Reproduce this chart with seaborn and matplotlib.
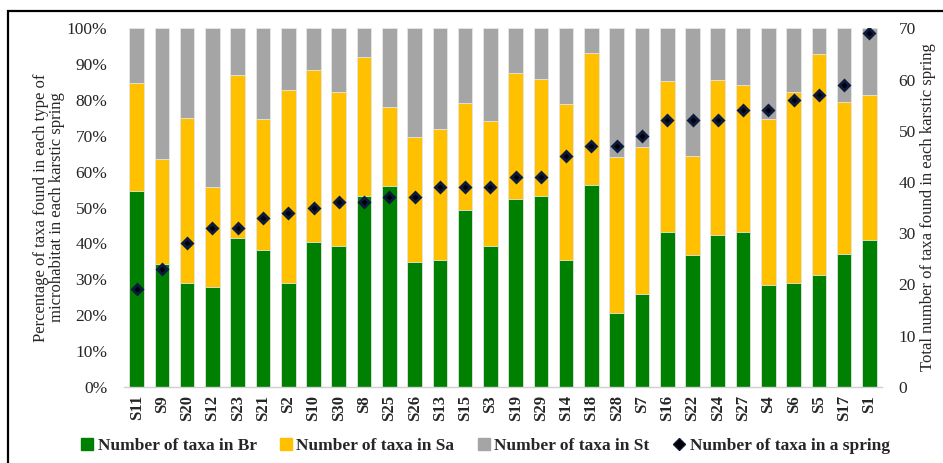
import numpy as np
import pandas as pd
import matplotlib
matplotlib.use("Agg")
import matplotlib.pyplot as plt
from matplotlib.lines import Line2D
from matplotlib.patches import Rectangle
from matplotlib.ticker import PercentFormatter
import seaborn as sns

# Springs ordered by total richness
springs = ["S11", "S9", "S20", "S12", "S23", "S21", "S2", "S10", "S30", "S8",
           "S25", "S26", "S13", "S15", "S3", "S19", "S29", "S14", "S18", "S28",
           "S7", "S16", "S22", "S24", "S27", "S4", "S6", "S5", "S17", "S1"]

# Share (%) of taxa found in each microhabitat
pct_br = [54.6, 34.1, 28.8, 27.7, 41.6, 38.1, 28.8, 40.4, 39.3, 53.1,
          56.0, 34.8, 35.3, 49.3, 39.3, 52.4, 53.1, 35.3, 56.2, 20.5,
          26.0, 43.2, 36.8, 42.2, 43.2, 28.3, 28.9, 31.3, 37.1, 40.8]
pct_sa = [30.2, 29.3, 46.3, 28.0, 45.4, 36.5, 54.1, 48.1, 42.9, 38.9,
          22.0, 34.9, 36.7, 29.9, 34.9, 35.0, 32.8, 43.6, 37.0, 43.6,
          41.0, 42.1, 27.6, 43.5, 40.9, 46.5, 53.4, 61.4, 42.4, 40.7]
pct_st = [15.2, 36.6, 24.9, 44.3, 13.0, 25.4, 17.1, 11.5, 17.8, 8.0,
          22.0, 30.3, 28.0, 20.8, 25.8, 12.6, 14.1, 21.1, 6.8, 35.9,
          33.0, 14.7, 35.6, 14.3, 15.9, 25.2, 17.7, 7.3, 20.5, 18.5]

# Total number of taxa in each spring
total_taxa = [19, 23, 28, 31, 31, 33, 34, 35, 36, 36,
              37, 37, 39, 39, 39, 41, 41, 45, 47, 47,
              49, 52, 52, 52, 54, 54, 56, 57, 59, 69]

legend_labels = ["Number of taxa in Br", "Number of taxa in Sa",
                 "Number of taxa in St", "Number of taxa in a spring"]

c_br, c_sa, c_st = "#008000", "#FFC000", "#A5A5A5"

df = pd.DataFrame({"spring": springs, "br": pct_br, "sa": pct_sa,
                   "st": pct_st, "total": total_taxa})
df["top_sa"] = df["br"] + df["sa"]
df["top_st"] = df["top_sa"] + df["st"]

sns.set_theme(style="white")
serif = ["Liberation Serif", "DejaVu Serif"]
plt.rcParams["font.family"] = serif

fig = plt.figure(figsize=(9.43, 4.63), dpi=100)
ax = fig.add_axes([124 / 943, 1 - 386.7 / 463, (882 - 124) / 943, (386.7 - 28.3) / 463])

# Stacked bars drawn as overlapping cumulative heights
for col, color in [("top_st", c_st), ("top_sa", c_sa), ("br", c_br)]:
    sns.barplot(data=df, x="spring", y=col, color=color, saturation=1,
                width=0.58, edgecolor="#e6e6e6", linewidth=0.6, ax=ax,
                order=springs)

ax.set_ylim(0, 100)
ax.set_xlim(-0.55, len(springs) - 0.45)
ax.set_yticks(np.arange(0, 101, 10))
ax.yaxis.set_major_formatter(PercentFormatter(decimals=0))
ax.set_xlabel("")
ax.set_ylabel("Percentage of taxa found in each type of\nmicrohabitat in each karstic spring",
              fontsize=12, labelpad=1, linespacing=1.0)
ax.tick_params(axis="y", labelsize=12.5, length=0, pad=12)
ax.tick_params(axis="x", labelsize=12, length=0, pad=6)
for lab in ax.get_xticklabels():
    lab.set_rotation(90)
    lab.set_fontweight("bold")
for s in ["top", "right", "left"]:
    ax.spines[s].set_visible(False)
ax.spines["bottom"].set_color("#d0d0d0")
ax.spines["bottom"].set_linewidth(1.0)

# Total richness on the secondary axis
ax2 = ax.twinx()
sns.pointplot(data=df, x="spring", y="total", order=springs, linestyle="none",
              markers="D", color="black", markersize=5.5, ax=ax2)
for coll in ax2.collections:
    coll.set_edgecolor("#0b1a3d")
for ln in ax2.lines:
    ln.set_markeredgecolor("#0b1a3d")
ax2.set_ylim(0, 70)
ax2.set_xlim(ax.get_xlim())
ax2.set_yticks(np.arange(0, 71, 10))
ax2.set_ylabel("Total number of taxa found in each karstic spring", fontsize=12,
               labelpad=3)
ax2.tick_params(axis="y", labelsize=12.5, length=0, pad=12)
ax2.set_xlabel("")
for s in ["top", "right", "left", "bottom"]:
    ax2.spines[s].set_visible(False)

# Legend below the plot
handles = [
    Line2D([], [], linestyle="none", marker="s", markersize=8, color=c_br),
    Line2D([], [], linestyle="none", marker="s", markersize=8, color=c_sa),
    Line2D([], [], linestyle="none", marker="s", markersize=8, color=c_st),
    Line2D([], [], linestyle="none", marker="D", markersize=6, color="black",
           markeredgecolor="#0b1a3d"),
]
fig.legend(handles, legend_labels, loc="center", bbox_to_anchor=(484 / 943, 1 - 446 / 463),
           ncol=4, frameon=False, handletextpad=0.1, columnspacing=1.2,
           handlelength=1.0, prop={"family": serif, "weight": "bold", "size": 12.5})

# Figure frame
fig.add_artist(Rectangle((8 / 943, -0.1), 1.2, 1 - 11 / 463 + 0.1,
                         transform=fig.transFigure, fill=False,
                         edgecolor="black", linewidth=1.6))

fig.savefig("out.png", dpi=100)
